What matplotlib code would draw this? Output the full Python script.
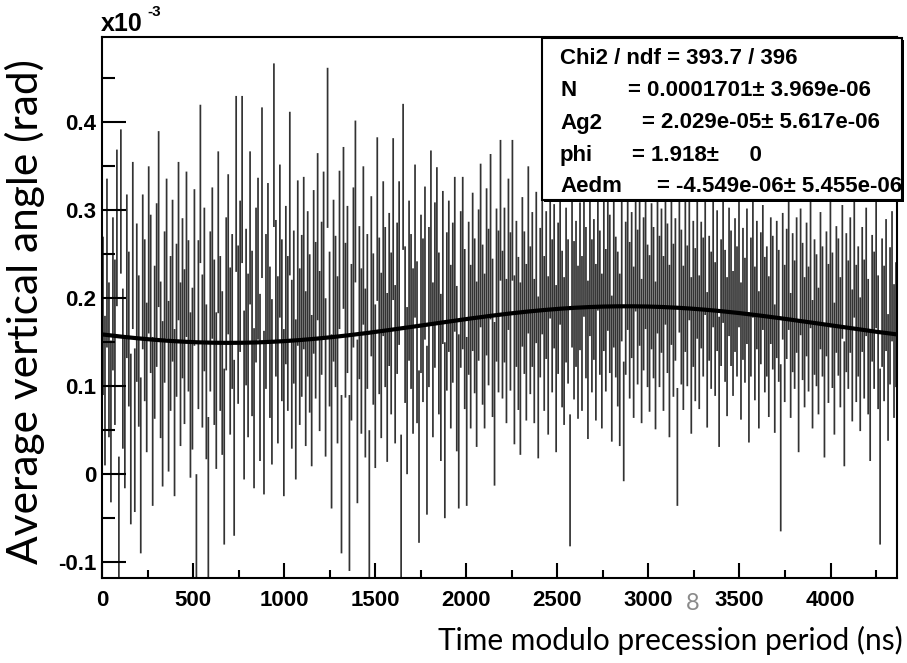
import numpy as np
import matplotlib
matplotlib.use('Agg')
import matplotlib.pyplot as plt
from matplotlib.patches import Rectangle
from matplotlib.ticker import MultipleLocator

# histogram: 400 bins over one precession period (ns)
period = 4365.0
nbins = 400

# bin contents, micro-rad
values = [
    180, 95, 240, 130, 60, 205, 150, 280, -60, 310, 120, 70, 225, 165, 40, 260, 50, 195, 140, 10,
    230, 175, 110, 255, 205, 60, 150, 215, 290, 130, 80, 190, 245, 100, 160, 220, 70, 175, 265, 125,
    200, 145, 250, 180, 90, 120, 235, -90, 170, 330, 140, 210, 105, -30, 185, 240, 150, 95, 275, 160,
    115, 20, 205, 250, 140, 185, 30, 330, 170, 225, 335, 90, 190, 135, 280, 160, 75, 215, 245, 110,
    320, 70, 185, 240, 150, 105, 374, 200, 130, 265, 175, 70, 215, 160, 319, 125, 190, 85, 240, 145,
    180, 240, 120, 205, 160, 95, 230, 175, 270, 140, 200, 250, 110, 371, 165, 60, 220, 185, 130, 255,
    0, 280, 175, 210, -10, 150, 235, 310, 60, 195, 140, 260, 115, 185, -50, 225, 165, 100, 290, 180,
    135, 245, 190, 110, 210, 160, 290, 125, 200, 240, -60, 338, 170, 95, 220, 185, 140, 265, 150, 20,
    205, 175, 240, 50, 190, 270, 130, 215, 260, 160, 110, 235, 50, 185, 225, 145, 195, 250, 120, 60,
    210, 240, 165, 60, 200, 145, 230, 180, 125, 215, 260, 170, 140, 230, 190, 270, 155, 80, 215, 185,
    300, 170, 215, 140, 250, 185, 300, 130, 205, 160, 120, 230, 195, 150, 255, 175, 210, 140, 235, 110,
    195, 240, 160, 215, 135, 260, 180, 225, 120, 200, 250, 165, 140, 215, 185, -7, 230, 175, 205, 150,
    225, 160, 260, 195, 130, 240, 180, 210, 150, 270, 195, 140, 225, 175, 250, 205, 120, 230, 190, 165,
    130, 235, 60, 200, 245, 175, 215, 150, 265, 190, 230, 140, 205, 250, 180, 160, 225, 195, 135, 240,
    185, 220, 160, 250, 200, 140, 230, 175, 210, 31, 245, 190, 155, 225, 180, 260, 135, 205, 170, 235,
    150, 215, 190, 255, 130, 200, 175, 240, 165, 220, 105, 195, 250, 180, 145, 230, 200, 160, 215, 185,
    240, 140, 205, 175, 225, 110, 190, 250, 160, 215, 130, 200, 235, 170, 185, 145, 220, 195, 120, 210,
    180, 30, 225, 160, 205, 240, 135, 195, 170, 215, 100, 230, 185, 150, 210, 165, 245, 125, 190, 175,
    140, 220, 185, 95, 205, 160, 240, 175, 120, 210, 190, 150, 230, 80, 195, 170, 215, 135, 250, 160,
    185, 125, 210, 165, 230, 145, 90, 200, 175, 240, 150, 20, 195, 160, 215, 110, 180, 225, 140, 170,
]

# bin errors, micro-rad
errors = [
    90, 85, 96, 88, 92, 87, 94, 89, 80, 82, 91, 86, 93, 88, 97, 95, 93, 90, 86, 100,
    88, 92, 85, 95, 90, 96, 87, 93, 100, 89, 94, 86, 91, 97, 88, 92, 95, 87, 90, 93,
    91, 88, 94, 86, 94, 92, 89, 90, 96, 90, 87, 93, 88, 95, 91, 86, 94, 89, 92, 88,
    93, 100, 87, 91, 95, 88, 100, 100, 90, 86, 95, 96, 89, 93, 87, 94, 91, 88, 92, 95,
    97, 93, 88, 91, 86, 94, 93, 89, 95, 87, 92, 95, 90, 88, 93, 96, 87, 91, 94, 89,
    92, 98, 88, 94, 90, 86, 93, 89, 95, 91, 87, 94, 90, 91, 88, 99, 92, 86, 95, 90,
    90, 92, 88, 95, 100, 89, 91, 92, 93, 87, 94, 90, 96, 88, 100, 91, 86, 93, 93, 89,
    94, 88, 91, 96, 87, 92, 92, 90, 86, 93, 105, 83, 89, 95, 91, 88, 94, 87, 92, 98,
    90, 93, 87, 96, 91, 98, 88, 94, 89, 92, 95, 87, 100, 90, 86, 93, 91, 88, 94, 99,
    89, 98, 91, 96, 87, 93, 90, 88, 94, 86, 93, 91, 88, 95, 89, 94, 90, 93, 87, 92,
    80, 84, 88, 82, 86, 90, 80, 96, 83, 87, 98, 85, 81, 89, 95, 84, 88, 82, 86, 92,
    85, 81, 88, 84, 90, 83, 87, 82, 95, 86, 80, 89, 84, 88, 82, 75, 86, 90, 83, 87,
    84, 88, 81, 86, 90, 83, 87, 80, 89, 84, 82, 88, 85, 81, 87, 90, 83, 86, 80, 88,
    98, 84, 68, 87, 81, 89, 83, 86, 80, 88, 84, 82, 87, 85, 81, 89, 83, 86, 84, 80,
    86, 82, 88, 80, 85, 98, 83, 87, 81, 67, 84, 88, 82, 86, 80, 85, 89, 83, 87, 81,
    76, 72, 79, 74, 77, 71, 78, 73, 76, 80, 74, 72, 78, 75, 79, 73, 77, 71, 76, 74,
    73, 78, 75, 71, 77, 74, 79, 72, 76, 73, 78, 75, 71, 77, 74, 80, 72, 76, 73, 78,
    75, 95, 72, 78, 74, 76, 71, 79, 73, 77, 75, 72, 78, 74, 76, 71, 79, 73, 77, 75,
    72, 78, 74, 76, 71, 79, 73, 77, 75, 72, 78, 74, 76, 71, 79, 73, 77, 75, 72, 78,
    74, 76, 71, 79, 73, 77, 75, 72, 78, 74, 76, 100, 73, 77, 75, 72, 78, 74, 76, 71,
]

# fit parameters from the stats box
fit_N = 0.0001701
fit_Ag2 = 2.029e-05
fit_phi = 1.918
fit_Aedm = -4.549e-06

stats_names = ['N', 'Ag2', 'phi', 'Aedm']
stats_vals = ['= 0.0001701\u00b1 3.969e-06', '= 2.029e-05\u00b1 5.617e-06',
              '= 1.918\u00b1     0', '= -4.549e-06\u00b1 5.455e-06']
stats_title = 'Chi2 / ndf = 393.7 / 396'

W, H = 907, 663
fig = plt.figure(figsize=(W / 100, H / 100), dpi=100)
ax = fig.add_axes([102 / W, 1 - 578 / H, 795 / W, (578 - 37) / H])

def fpos(x, y):
    return x / W, 1 - y / H

t = (np.arange(nbins) + 0.5) * period / nbins
y = np.array(values) / 1000.0   # in units of 1e-3 rad
ey = np.array(errors) / 1000.0

eb = ax.errorbar(t, y, yerr=ey, fmt='none', ecolor='black', elinewidth=1.25, alpha=0.8)
for lc in eb[2]:
    lc.set_snap(False)

tt = np.linspace(0, period, 600)
ph = 2 * np.pi * tt / period + fit_phi
fit = fit_N + fit_Ag2 * np.cos(ph) + fit_Aedm * np.sin(ph)
ax.plot(tt, fit * 1e3, color='black', lw=3)

ax.set_xlim(0, period)
ax.set_ylim(-0.118, 0.497)

ax.xaxis.set_major_locator(MultipleLocator(500))
ax.xaxis.set_minor_locator(MultipleLocator(250))
ax.yaxis.set_major_locator(MultipleLocator(0.1))
ax.yaxis.set_minor_locator(MultipleLocator(0.05))
ax.tick_params(axis='both', which='both', direction='in', top=False, right=False, width=1.5)
ax.tick_params(axis='y', which='major', length=17, pad=4)
ax.tick_params(axis='y', which='minor', length=9)
ax.tick_params(axis='x', which='major', length=11, pad=9)
ax.tick_params(axis='x', which='minor', length=5.5)
for spine in ax.spines.values():
    spine.set_linewidth(1.5)

ax.set_yticks([-0.1, 0, 0.1, 0.2, 0.3, 0.4])
ax.set_yticklabels(['-0.1', '0', '0.1', '0.2', '0.3', '0.4'])
ax.set_xticks(range(0, 4001, 500))
for lab in ax.get_xticklabels() + ax.get_yticklabels():
    lab.set_fontfamily('Liberation Sans')
    lab.set_fontweight('bold')
    lab.set_fontsize(16)

# exponent label
fig.text(*fpos(101, 31), 'x10', fontsize=18, fontweight='bold', family='Liberation Sans', va='baseline')
fig.text(*fpos(147, 16), '-3', fontsize=11, fontweight='bold', family='Liberation Sans', va='baseline')

# stats box with shadow
fig.add_artist(Rectangle(fpos(544, 202), 360 / W, 162 / H, transform=fig.transFigure,
                         facecolor='black', edgecolor='none', zorder=9))
fig.add_artist(Rectangle(fpos(542, 200), 360 / W, 162 / H, transform=fig.transFigure,
                         facecolor='white', edgecolor='black', lw=1.5, zorder=10))
tkw = dict(fontsize=16, fontweight='bold', family='Liberation Sans', va='center', zorder=11)
fig.text(*fpos(560, 58), stats_title, **tkw)
row_y = [90, 123, 155, 187]
eq_x = [628, 642, 632, 657]
for name, val, yy, xx in zip(stats_names, stats_vals, row_y, eq_x):
    fig.text(*fpos(560, yy), name, **tkw)
    fig.text(*fpos(xx, yy), val, **tkw)

# axis titles (slide text)
fig.text(*fpos(25, 312), 'Average vertical angle (rad)', rotation=90, ha='center', va='center',
         fontsize=30.5, family='Lato')
fig.text(*fpos(903, 640), 'Time modulo precession period (ns)', ha='right', va='center',
         fontsize=21.5, family='Lato')
fig.text(*fpos(693, 604), '8', ha='center', va='center', fontsize=17, color='#8a8a8a', family='Lato')

fig.savefig('out.png', dpi=100)
